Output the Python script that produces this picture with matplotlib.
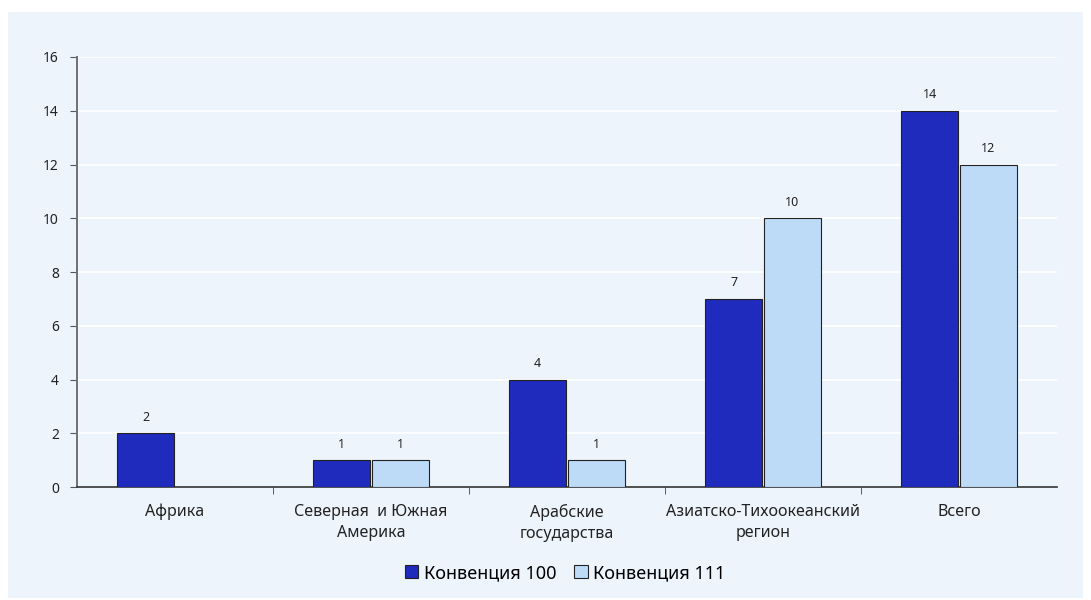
import numpy as np
import matplotlib.pyplot as plt
from matplotlib.patches import Rectangle

plt.rcParams['font.family'] = ['Noto Sans', 'DejaVu Sans']

categories = ['Африка', 'Северная  и Южная\nАмерика', 'Арабские\nгосударства',
              'Азиатско-Тихоокеанский\nрегион', 'Всего']
conv100 = [2, 1, 4, 7, 14]
conv111 = [0, 1, 1, 10, 12]
series_names = ['Конвенция 100', 'Конвенция 111']

panel_color = '#edf4fc'
dark = '#1f2bbd'
light = '#bddbf6'

fig = plt.figure(figsize=(10.91, 6.0), dpi=100)
fig.patches.append(Rectangle((8 / 1091, 2 / 600), 1075 / 1091, 586 / 600,
                             transform=fig.transFigure, facecolor=panel_color,
                             edgecolor='none', zorder=-10))
ax = fig.add_axes([0.0706, 0.1883, 0.8982, 0.7167])
ax.set_zorder(2)
ax.set_facecolor(panel_color)

x = np.arange(len(categories))
w = 0.29
off = 0.15
b1 = ax.bar(x - off, conv100, w, color=dark, edgecolor='#222222', linewidth=0.8,
            label=series_names[0], zorder=3)
b2 = ax.bar(x + off, conv111, w, color=light, edgecolor='#222222', linewidth=0.8,
            label=series_names[1], zorder=3)

for bars, vals in ((b1, conv100), (b2, conv111)):
    for r, v in zip(bars, vals):
        if v == 0:
            continue
        ax.text(r.get_x() + r.get_width() / 2, v + 0.35, str(v), ha='center',
                va='bottom', fontsize=9, color='#222222')

ax.set_xlim(-0.5, len(categories) - 0.5)
ax.set_ylim(0, 16)
ax.set_yticks(range(0, 17, 2))
ax.yaxis.grid(True, color='white', linewidth=1.2, zorder=0)
ax.set_axisbelow(True)

ax.set_xticks(x)
ax.set_xticklabels(categories, fontsize=11.5, color='#222222', linespacing=1.45)
ax.tick_params(axis='x', length=0, pad=12)
ax.set_xticks(np.arange(0.5, len(categories) - 0.5), minor=True)
ax.tick_params(axis='x', which='minor', length=5, color='#444444', direction='out')
ax.tick_params(axis='y', labelsize=10, labelcolor='#222222', length=5,
               color='#555555', pad=8)

for s in ('top', 'right'):
    ax.spines[s].set_visible(False)
ax.spines['left'].set_color('#707070')
ax.spines['left'].set_linewidth(1.4)
ax.spines['bottom'].set_color('#333333')
ax.spines['bottom'].set_linewidth(1.2)

leg = fig.legend(handles=[b1, b2], labels=series_names, loc='center',
                 bbox_to_anchor=(0.518, 0.045), ncol=2, frameon=False, fontsize=13,
                 handlelength=0.75, handleheight=0.75, handletextpad=0.3,
                 columnspacing=1.0)
leg.set_zorder(3)

fig.savefig('out.png', dpi=100, facecolor='white')
